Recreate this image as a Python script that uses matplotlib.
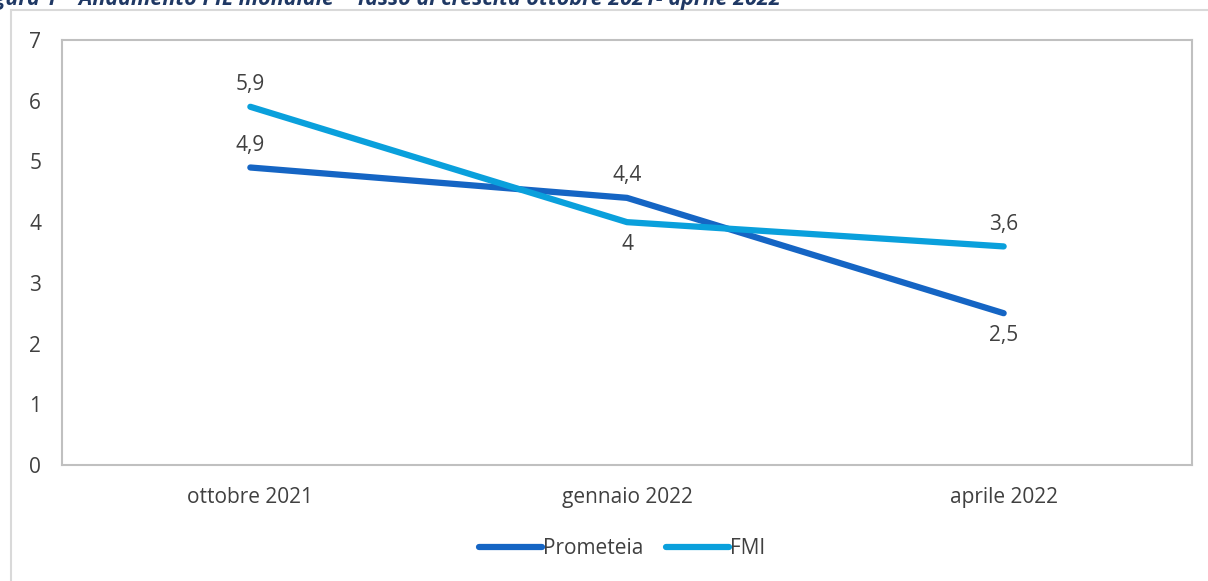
import matplotlib.pyplot as plt
from matplotlib.patches import Rectangle

categories = ["ottobre 2021", "gennaio 2022", "aprile 2022"]
prometeia = [4.9, 4.4, 2.5]
fmi = [5.9, 4.0, 3.6]
prometeia_pos = ["above", "above", "below"]
fmi_pos = ["above", "below", "above"]
title = "Figura 1 \u2013 Andamento PIL mondiale \u2013 Tasso di crescita ottobre 2021- aprile 2022"

plt.rcParams['font.family'] = ['Open Sans', 'DejaVu Sans']

c_prom = "#1565c4"
c_fmi = "#0aa0dc"
txt = "#404040"

fig = plt.figure(figsize=(12.08, 5.81), dpi=100)
ax = fig.add_axes([62/1208, 1 - 465/581, 1130/1208, 425/581])

x = range(len(categories))
ax.plot(x, prometeia, color=c_prom, lw=4.5, solid_capstyle='round', label="Prometeia")
ax.plot(x, fmi, color=c_fmi, lw=4.5, solid_capstyle='round', label="FMI")

def fmt(v):
    s = ("%g" % v).replace(".", ",")
    return s

for vals, pos in [(prometeia, prometeia_pos), (fmi, fmi_pos)]:
    for i, (v, p) in enumerate(zip(vals, pos)):
        off = 16 if p == "above" else -16
        ax.annotate(fmt(v), (i, v), xytext=(0, off), textcoords="offset points",
                    ha="center", va="center", fontsize=15, color=txt)

ax.set_xlim(-0.5, 2.5)
ax.set_ylim(0, 7)
ax.set_xticks(list(x))
ax.set_xticklabels(categories)
ax.set_yticks(range(0, 8))
ax.tick_params(length=0, labelsize=15, labelcolor=txt)
ax.tick_params(axis='x', pad=16)
ax.tick_params(axis='y', pad=15)
for s in ax.spines.values():
    s.set_color("#c0c0c0")
    s.set_linewidth(1.5)

leg = fig.legend(loc="center", bbox_to_anchor=(0.515, 1 - 549/581), ncol=2, frameon=False,
                 fontsize=15, handlelength=3.0, handletextpad=0.05, columnspacing=1.1)
for t in leg.get_texts():
    t.set_color(txt)

# outer chart area border (partly cropped)
fig.patches.append(Rectangle((11/1208, -0.1), 1.2, 1 - 10/581 + 0.1, transform=fig.transFigure,
                             fill=False, edgecolor="#d9d9d9", lw=1.5))

fig.text(-24/1208, 1 - 5/581, title, fontsize=15.5, fontweight='bold', style='italic',
         color="#1f3864", ha="left", va="baseline")

fig.savefig("out.png", dpi=100)
